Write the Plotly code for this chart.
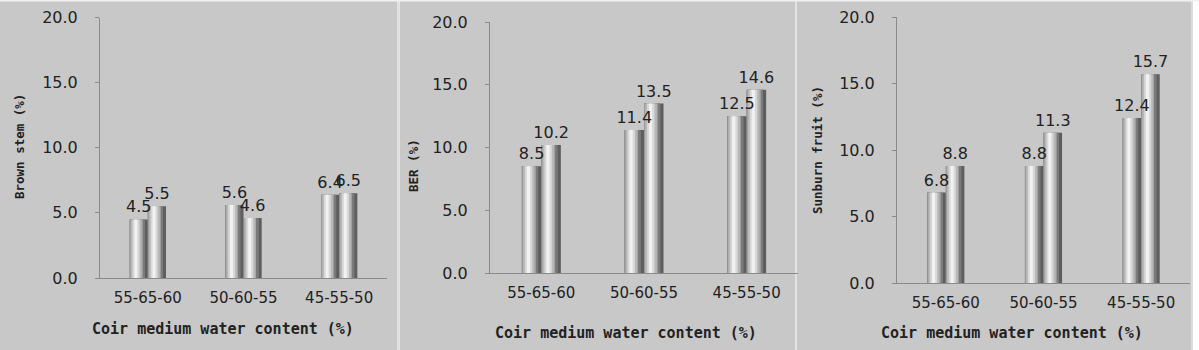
import plotly.graph_objects as go

categories = ["55-65-60", "50-60-55", "45-55-50"]
brown_a = [4.5, 5.6, 6.4]
brown_b = [5.5, 4.6, 6.5]
ber_a = [8.5, 11.4, 12.5]
ber_b = [10.2, 13.5, 14.6]
sun_a = [6.8, 8.8, 12.4]
sun_b = [8.8, 11.3, 15.7]
y_titles = ["Brown stem (%)", "BER (%)", "Sunburn fruit (%)"]
x_title = "Coir medium water content (%)"
y_ticks = [0, 5, 10, 15, 20]

W, H = 1199, 350
BG = "#c8c8c8"
AX = "#8a8a8a"
TXT = "#222222"

panels = [
    dict(vals=(brown_a, brown_b), x=(100, 387), y=(17.5, 278), ytl=(20, 147), xtl=(223, 329)),
    dict(vals=(ber_a, ber_b), x=(490, 798), y=(22, 273), ytl=(413, 166), xtl=(626, 333)),
    dict(vals=(sun_a, sun_b), x=(897, 1190), y=(17, 283), ytl=(817, 150), xtl=(1012, 333)),
]

BW = 0.19
strips = [
    (0.00, 1.00, "#5e5e5e"),
    (0.00, 0.74, "#9a9a9a"),
    (0.06, 0.60, "#b8b8b8"),
    (0.16, 0.38, "#d8d8d8"),
    (0.26, 0.16, "#f2f2f2"),
    (0.74, 0.10, "#7a7a7a"),
]

fig = go.Figure()
for i, p in enumerate(panels):
    xa = "x" if i == 0 else f"x{i+1}"
    ya = "y" if i == 0 else f"y{i+1}"
    for j, vals in enumerate(p["vals"]):
        base_off = -BW if j == 0 else 0.0
        for (s, w, c) in strips:
            fig.add_trace(go.Bar(
                x=categories, y=vals, xaxis=xa, yaxis=ya,
                offset=base_off + s * BW, width=w * BW,
                marker=dict(color=c, line=dict(width=0)),
                showlegend=False, hoverinfo="skip", textposition="none",
            ))
    for j, vals in enumerate(p["vals"]):
        base_off = -BW if j == 0 else 0.0
        fig.add_trace(go.Bar(
            x=categories, y=vals, xaxis=xa, yaxis=ya,
            offset=base_off, width=BW,
            marker=dict(color="rgba(0,0,0,0)", line=dict(width=0)),
            showlegend=False, hoverinfo="skip",
            text=[f"{v:.1f}" for v in vals], textposition="outside",
            constraintext="none", cliponaxis=False,
            textfont=dict(family="DejaVu Sans", size=16, color=TXT),
        ))
    xd = [p["x"][0] / W, p["x"][1] / W]
    yd = [1 - p["y"][1] / H, 1 - p["y"][0] / H]
    xkey = "xaxis" if i == 0 else f"xaxis{i+1}"
    ykey = "yaxis" if i == 0 else f"yaxis{i+1}"
    fig.update_layout(**{
        xkey: dict(domain=xd, anchor=ya, type="category", showline=True, linecolor=AX,
                   linewidth=1, ticks="", showgrid=False, zeroline=False, automargin=False,
                   tickfont=dict(family="DejaVu Sans", size=15, color=TXT),
                   ticklabelstandoff=6),
        ykey: dict(domain=yd, anchor=xa, range=[0, 20], tickvals=y_ticks,
                   ticktext=[f"{v:.1f}" for v in y_ticks], showline=True, linecolor=AX,
                   linewidth=1, ticks="outside", ticklen=4, tickcolor=AX, showgrid=False,
                   zeroline=False, automargin=False, ticklabelstandoff=14,
                   tickfont=dict(family="DejaVu Sans", size=16, color=TXT)),
    })
    fig.add_annotation(text=y_titles[i], x=p["ytl"][0] / W, y=1 - p["ytl"][1] / H,
                       xref="paper", yref="paper", textangle=-90, showarrow=False,
                       xanchor="center", yanchor="middle",
                       font=dict(family="DejaVu Sans Mono", size=12.5, color=TXT, weight="bold"))
    fig.add_annotation(text=x_title, x=p["xtl"][0] / W, y=1 - p["xtl"][1] / H,
                       xref="paper", yref="paper", showarrow=False,
                       xanchor="center", yanchor="middle",
                       font=dict(family="DejaVu Sans Mono", size=15, color=TXT, weight="bold"))

def prect(x0, x1, y0, y1, c):
    return dict(type="rect", xref="paper", yref="paper", x0=x0 / W, x1=x1 / W,
                y0=1 - y1 / H, y1=1 - y0 / H, fillcolor=c, line=dict(width=0), layer="below")

shapes = [
    prect(397, 400, 0, H, "#e2e2e2"),
    prect(795, 797, 0, H, "#e2e2e2"),
    prect(1191, 1193, 0, H, "#dcdcdc"),
    prect(1193, W, 0, H, "#ffffff"),
    prect(0, W, 0, 1.5, "#f0f0f0"),
]

fig.update_layout(
    width=W, height=H, margin=dict(l=0, r=0, t=0, b=0, autoexpand=False),
    paper_bgcolor=BG, plot_bgcolor="rgba(0,0,0,0)",
    barmode="overlay", shapes=shapes, showlegend=False,
)

fig.write_html(
    "out.html",
    config={"displayModeBar": False},
    post_script="}); document.documentElement.style.margin='0'; document.body.style.margin='0';"
                " document.body.style.padding='0'; document.body.style.overflow='hidden'; (function(){",
)
